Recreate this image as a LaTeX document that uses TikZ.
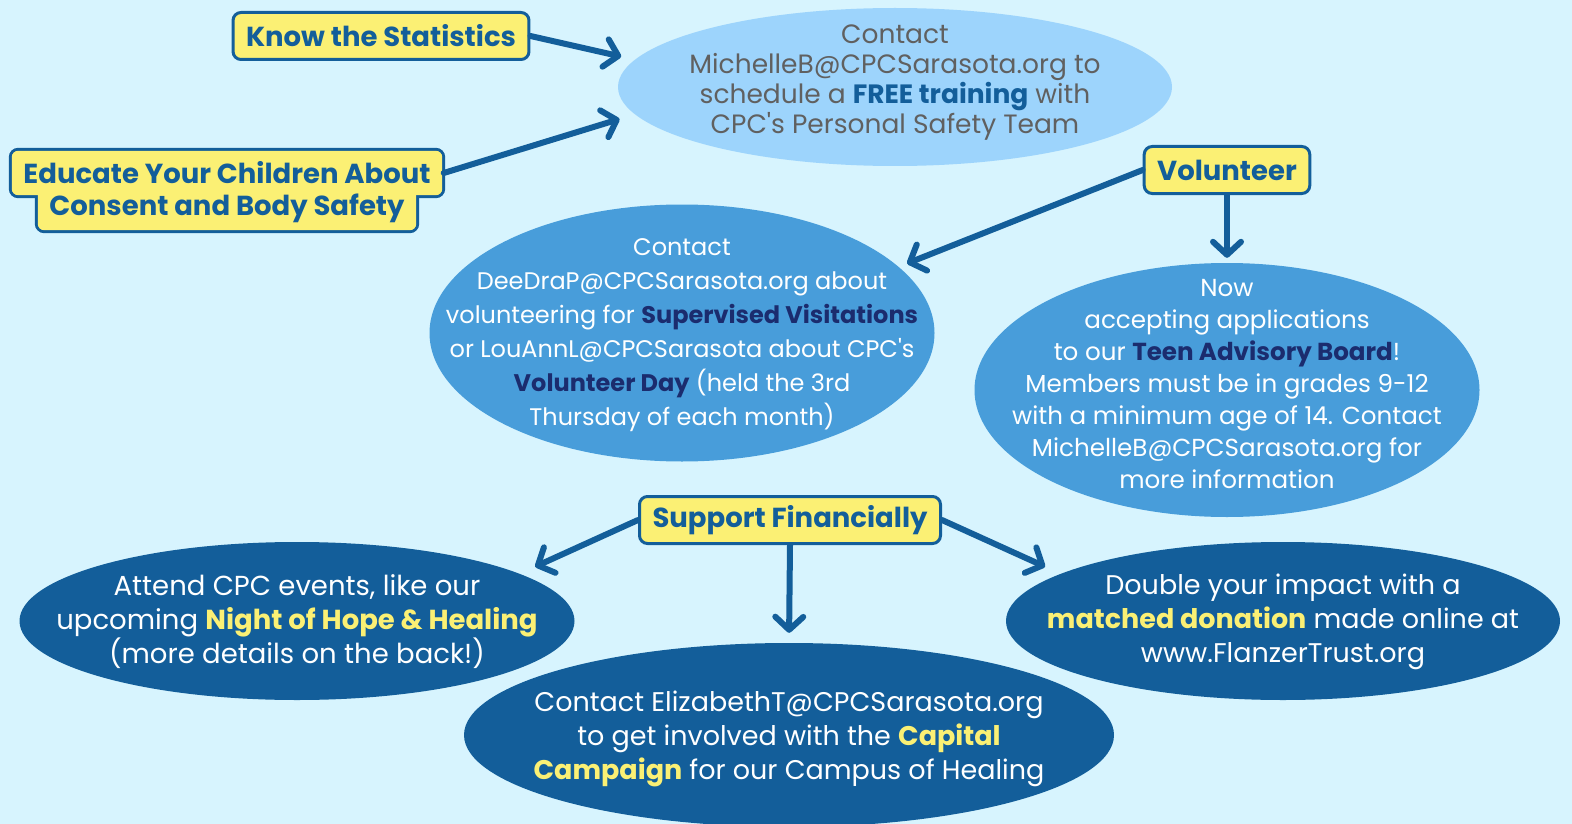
\documentclass[tikz,border=0pt]{standalone}
\usepackage{fontspec}
\setmainfont{Poppins}
\usetikzlibrary{shapes.geometric,arrows.meta,backgrounds,calc}
\definecolor{pagebg}{HTML}{D7F4FE}
\definecolor{paleblue}{HTML}{9DD4FC}
\definecolor{midblue}{HTML}{489DDA}
\definecolor{darkblue}{HTML}{135E9A}
\definecolor{navy}{HTML}{1B2C6E}
\definecolor{tagyellow}{HTML}{FBF074}
\definecolor{greytext}{HTML}{606060}

\begin{document}
\begin{tikzpicture}[x=1pt, y=-1pt]
  \tikzset{
    tagtext/.style={text=darkblue, font=\bfseries\fontsize{27.5}{30}\selectfont,
      inner xsep=13pt, inner ysep=0pt, minimum height=47pt},
    tag/.style={tagtext, fill=tagyellow, draw=darkblue, line width=3pt, rounded corners=8pt},
    tagframe/.style={draw=darkblue, fill=tagyellow, line width=3pt, rounded corners=8pt},
    blob/.style={ellipse, inner sep=0pt, draw=none},
    blobtext/.style={align=center, inner sep=0pt},
    conn/.style={draw=darkblue, line width=6pt, line cap=round,
      -{Straight Barb[length=13pt, width=28pt, round]}},
  }
  \useasboundingbox (0,0) rectangle (1572,824);
  %
  \node [blob, fill=paleblue, minimum width=554pt, minimum height=158pt] (top) at (895,87) {};
  \node [blob, fill=midblue, minimum width=505pt, minimum height=257pt] (midl) at (682,333) {};
  \node [blob, fill=midblue, minimum width=505pt, minimum height=254pt] (midr) at (1227,390) {};
  \node [blob, fill=darkblue, minimum width=555pt, minimum height=158pt] (botl) at (297,621) {};
  \node [blob, fill=darkblue, minimum width=650pt, minimum height=184pt] (botc) at (789,735) {};
  \node [blob, fill=darkblue, minimum width=554pt, minimum height=158pt] (botr) at (1283,621) {};
  %
  \node [blobtext, text=greytext, font=\fontsize{26.5}{30}\selectfont] (toptxt) at (895,83)
    {Contact\\MichelleB@CPCSarasota.org to\\schedule a {\bfseries\color{darkblue}FREE training} with\\CPC\textquotesingle s Personal Safety Team};
  \node [blobtext, text=white, font=\fontsize{24}{34}\selectfont] (midltxt) at (682,335)
    {Contact\\DeeDraP@CPCSarasota.org about\\volunteering for {\bfseries\color{navy}Supervised Visitations}\\or LouAnnL@CPCSarasota about CPC\textquotesingle s\\{\bfseries\color{navy}Volunteer Day} (held the 3rd\\Thursday of each month)};
  \node [blobtext, text=white, font=\fontsize{24.6}{32}\selectfont] (midrtxt) at (1227,384)
    {Now\\accepting applications\\to our {\bfseries\color{navy}Teen Advisory Board}!\\Members must be in grades 9-12\\with a minimum age of 14. Contact\\MichelleB@CPCSarasota.org for\\more information};
  \node [blobtext, text=white, font=\fontsize{27.5}{34}\selectfont] (botltxt) at (297,622)
    {Attend CPC events, like our\\upcoming {\bfseries\color{tagyellow}Night of Hope \& Healing}\\(more details on the back!)};
  \node [blobtext, text=white, font=\fontsize{27}{34}\selectfont] (botctxt) at (789,739)
    {Contact ElizabethT@CPCSarasota.org\\to get involved with the {\bfseries\color{tagyellow}Capital}\\{\bfseries\color{tagyellow}Campaign} for our Campus of Healing};
  \node [blobtext, text=white, font=\fontsize{27}{34}\selectfont] (botrtxt) at (1283,622)
    {Double your impact with a\\{\bfseries\color{tagyellow}matched donation} made online at\\www.FlanzerTrust.org};
  %
  \node [tag] (know) at (381,36) {Know the Statistics};
  \node [tagtext] (educa) at (227,173) {Educate Your Children About};
  \node [tagtext] (educb) at (227,208) {Consent and Body Safety};
  \node [tag] (vol) at (1227,170) {Volunteer};
  \node [tag] (sup) at (790,520) {Support Financially};
  %
  \begin{scope}[on background layer]
    \fill [pagebg] (0,0) rectangle (1572,824);
    \foreach \p in {educa,educb}
      \draw [tagframe] (\p.south west) rectangle (\p.north east);
    \foreach \p in {educa,educb}
      \fill [tagyellow, rounded corners=6.5pt] ($(\p.south west)+(1.5,-1.5)$) rectangle ($(\p.north east)+(-1.5,1.5)$);
  \end{scope}
  %
  \draw [conn, shorten >=14pt] (know.east) -- (top.174);
  \draw [conn, shorten >=16pt] (educa.east) -- (top.186);
  \draw [conn, shorten >=9pt] (vol.west) -- (midl.17);
  \draw [conn, shorten >=5pt] (vol.south) -- (midr.north);
  \draw [conn, shorten >=17pt] (sup.west) -- (botl.12);
  \draw [conn, shorten >=10pt] (sup.south) -- (botc.north);
  \draw [conn, shorten >=17pt] (sup.east) -- (botr.168);
\end{tikzpicture}
\end{document}
